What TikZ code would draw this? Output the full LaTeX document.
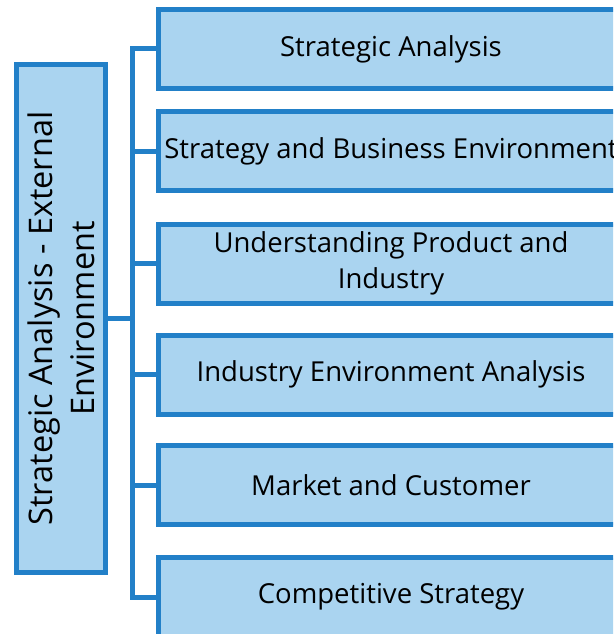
\documentclass[tikz,border=0pt]{standalone}
\usepackage{fontspec}
\setmainfont{Open Sans}
\usepackage{tikz}

\definecolor{boxfill}{RGB}{170,212,240}
\definecolor{boxline}{RGB}{34,128,200}

\begin{document}
\begin{tikzpicture}[x=1pt, y=-1pt,
    item/.style={draw=boxline, fill=boxfill, line width=5pt, minimum width=465pt,
      minimum height=79pt, inner sep=0pt, align=center, font=\fontsize{27.5}{36}\selectfont},
    link/.style={draw=boxline, line width=5pt}]
  \clip (0,0) rectangle (613,634);

  \node[item, rotate=90, minimum width=508pt, minimum height=89pt,
    font=\fontsize{32.5}{42}\selectfont] at (61,318.5) (S)
    {Strategic Analysis - External\\Environment};

  \node[item] at (391,49) (A) {Strategic Analysis};
  \node[item] at (391,151) (B) {Strategy and Business Environment};
  \node[item] at (391,263.5) (C) {Understanding Product and\\Industry};
  \node[item] at (391,374.5) (D) {Industry Environment Analysis};
  \node[item] at (391,485) (E) {Market and Customer};
  \node[item] at (391,597) (F) {Competitive Strategy};

  \coordinate (T) at (132,318.5);
  \draw[link] (S.south) -- (T);
  \draw[link] (A.west) -- (T |- A.west) -- (T |- F.west) -- (F.west);
  \draw[link] (T |- B.west) -- (B.west);
  \draw[link] (T |- C.west) -- (C.west);
  \draw[link] (T |- D.west) -- (D.west);
  \draw[link] (T |- E.west) -- (E.west);
\end{tikzpicture}
\end{document}
